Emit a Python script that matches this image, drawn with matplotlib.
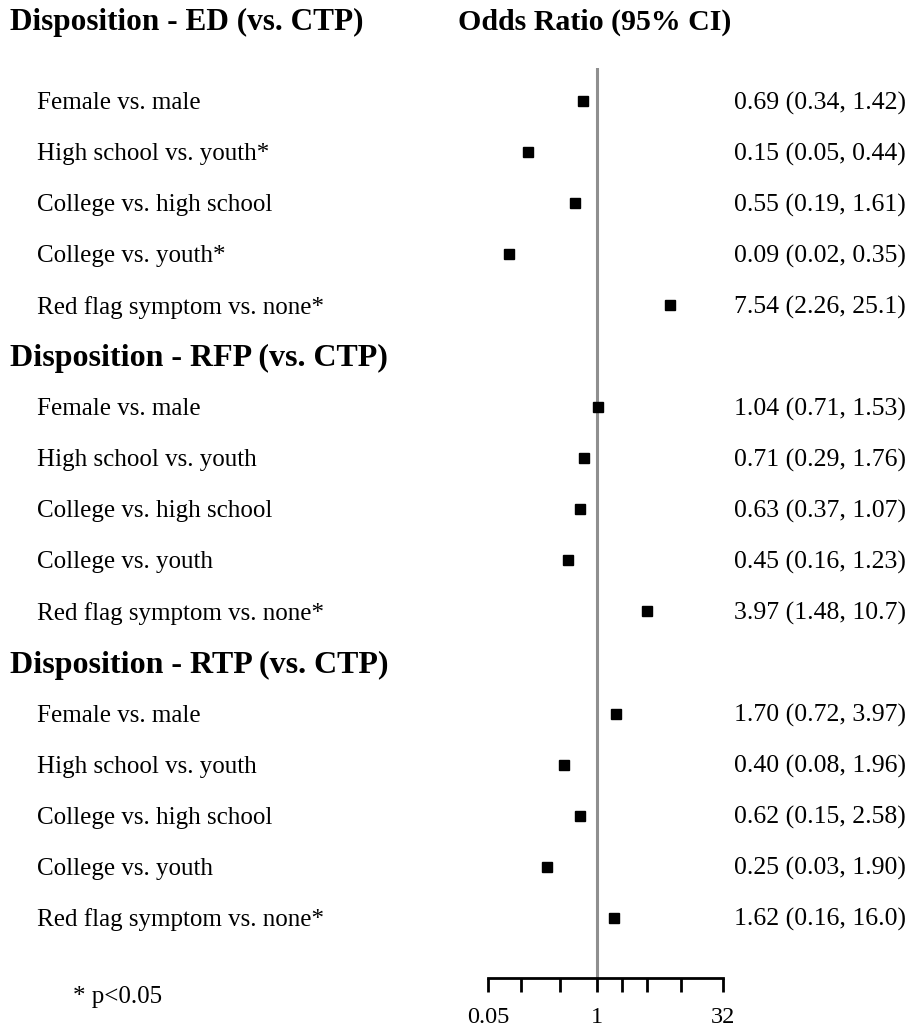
import matplotlib.pyplot as plt
from matplotlib import transforms

plt.rcParams["font.family"] = ["Liberation Serif", "DejaVu Serif"]

# groups of comparisons, odds ratios and printed CI text
groups = ["Disposition - ED (vs. CTP)", "Disposition - RFP (vs. CTP)", "Disposition - RTP (vs. CTP)"]
labels = [
    ["Female vs. male", "High school vs. youth*", "College vs. high school",
     "College vs. youth*", "Red flag symptom vs. none*"],
    ["Female vs. male", "High school vs. youth", "College vs. high school",
     "College vs. youth", "Red flag symptom vs. none*"],
    ["Female vs. male", "High school vs. youth", "College vs. high school",
     "College vs. youth", "Red flag symptom vs. none*"],
]
odds = [
    [0.69, 0.15, 0.55, 0.09, 7.54],
    [1.04, 0.71, 0.63, 0.45, 3.97],
    [1.70, 0.40, 0.62, 0.25, 1.62],
]
ci_low = [
    ["0.34", "0.05", "0.19", "0.02", "2.26"],
    ["0.71", "0.29", "0.37", "0.16", "1.48"],
    ["0.72", "0.08", "0.15", "0.03", "0.16"],
]
ci_high = [
    ["1.42", "0.44", "1.61", "0.35", "25.1"],
    ["1.53", "1.76", "1.07", "1.23", "10.7"],
    ["3.97", "1.96", "2.58", "1.90", "16.0"],
]
xticks = [0.05, 0.125, 0.36, 1, 2, 4, 10, 32]
xticklabels = ["0.05", "", "", "1", "", "", "", "32"]

W, H = 908, 1028
fig = plt.figure(figsize=(W / 100, H / 100), dpi=100)
ax = fig.add_axes([488 / W, 50 / H, 235 / W, 910 / H])
ax.set_xscale("log")
ax.set_xlim(0.05, 32)
ax.set_ylim(17.18, -0.646)

# x in figure fraction, y in row units
left = transforms.blended_transform_factory(fig.transFigure, ax.transData)

row = 0
for g in range(len(groups)):
    if g > 0:
        ax.text(10 / W, row + 0.05, groups[g], transform=left, ha="left", va="center",
                fontsize=23, fontweight="bold")
        row += 1
    for i in range(len(labels[g])):
        ax.text(37 / W, row + 0.04, labels[g][i], transform=left, ha="left", va="center",
                fontsize=18)
        ax.plot(odds[g][i], row, marker="s", color="black", markersize=7.5, linestyle="none",
                zorder=3)
        ax.text(906 / W, row + 0.04, f"{odds[g][i]:.2f} ({ci_low[g][i]}, {ci_high[g][i]})",
                transform=left, ha="right", va="center", fontsize=18.5)
        row += 1

ax.axvline(1, color="#8f8f8f", linewidth=2.2, zorder=1)

fig.text(10 / W, 1 - 22 / H, groups[0], ha="left", va="center", fontsize=22.5, fontweight="bold")
fig.text(458 / W, 1 - 22 / H, "Odds Ratio (95% CI)", ha="left", va="center",
         fontsize=21.5, fontweight="bold")
fig.text(73 / W, 1 - 997 / H, "* p<0.05", ha="left", va="center", fontsize=18)

for side in ["left", "right", "top"]:
    ax.spines[side].set_visible(False)
ax.spines["bottom"].set_linewidth(2.0)
ax.set_yticks([])
ax.set_xticks(xticks)
ax.set_xticklabels(xticklabels, fontsize=17.5)
ax.minorticks_off()
ax.tick_params(axis="x", which="major", direction="out", length=10, width=2.0, pad=11)

fig.savefig("out.png", dpi=100)
